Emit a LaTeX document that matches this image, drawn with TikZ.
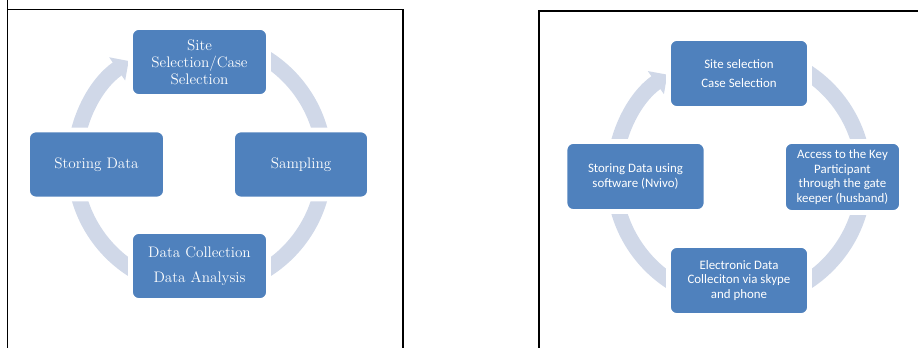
\documentclass[tikz,border=0pt]{standalone}
\usepackage{fontspec}
\newfontfamily\calibrifont{Carlito}
\usetikzlibrary{arrows.meta}
\definecolor{boxblue}{RGB}{79,129,189}
\definecolor{ringblue}{RGB}{208,216,232}

\begin{document}
\begin{tikzpicture}[x=0.03cm,y=0.03cm,
  box/.style={fill=boxblue, draw=white, line width=4pt, rounded corners=0.25cm,
    text=white, align=center, inner sep=2pt},
  lbox/.style={box, minimum width=4.14cm, minimum height=2.07cm,
    font=\fontsize{13}{14.5}\selectfont},
  rbox/.style={box, minimum width=4.23cm, minimum height=2.1cm,
    font=\calibrifont\fontsize{11}{12.5}\selectfont},
  ring/.style={ringblue, line width=0.47cm, -{Triangle[width=0.82cm,length=0.42cm]}}]
\useasboundingbox (0,0) rectangle (918,348);

% frames
\draw[line width=1.6pt] (7.5,360) -- (7.5,338.5) -- (403,338.5) -- (403,-10);
\draw[line width=1.6pt] (7.5,338.5) -- (7.5,-10);
\draw[line width=1.6pt] (539,-10) -- (539,337) -- (930,337);

% left cycle
\coordinate (lc) at (199.5,184);
\draw[ring] ([shift={(90:125)}]lc) arc[start angle=90, end angle=-235.5, radius=125];
\node[lbox] (lsite) at (199.5,286) {Site\\Selection/Case\\Selection};
\node[lbox, minimum width=4.11cm] (lsamp) at (301,183.5) {Sampling};
\node[lbox] (ldata) at (199.5,82) {Data Collection\\[7pt]Data Analysis};
\node[lbox] (lstore) at (96.5,183.5) {Storing Data};

% right cycle
\coordinate (rc) at (739,171);
\draw[ring] ([shift={(90:125)}]rc) arc[start angle=90, end angle=-235, radius=125];
\node[rbox] (rsite) at (739,274.5) {Site selection\\[4pt]Case Selection};
\node[rbox, minimum width=3.54cm, minimum height=2.13cm] (raccess) at (842.5,171) {Access to the Key\\Participant\\through the gate\\keeper (husband)};
\node[rbox] (rdata) at (739,67.5) {Electronic Data\\Colleciton via skype\\and phone};
\node[rbox] (rstore) at (635.5,171.5) {Storing Data using\\software (Nvivo)};
\end{tikzpicture}
\end{document}
